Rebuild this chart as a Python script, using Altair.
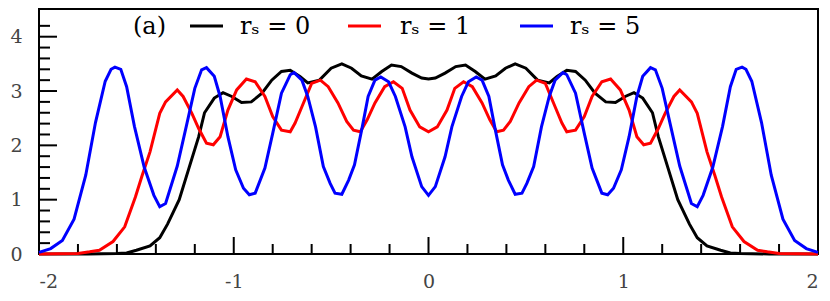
import altair as alt
import pandas as pd

labels = ["rₛ = 0", "rₛ = 1", "rₛ = 5"]
colors = ["#000000", "#ff0000", "#0000ff"]
panel_tag = "(a)"

black_pts = [(-2.00, 0.0), (-1.75, 0.0), (-1.60, 0.01), (-1.55, 0.02), (-1.50, 0.07), (-1.43, 0.15),
             (-1.38, 0.30), (-1.34, 0.55), (-1.28, 1.00), (-1.23, 1.58), (-1.18, 2.16), (-1.15, 2.60),
             (-1.10, 2.87), (-1.055, 2.97), (-1.01, 2.90), (-0.96, 2.79), (-0.91, 2.80), (-0.855, 2.96),
             (-0.805, 3.20), (-0.755, 3.36), (-0.71, 3.38), (-0.66, 3.27), (-0.62, 3.15), (-0.56, 3.20),
             (-0.50, 3.42), (-0.445, 3.50), (-0.395, 3.42), (-0.345, 3.28), (-0.29, 3.22), (-0.24, 3.36),
             (-0.19, 3.48), (-0.14, 3.45), (-0.085, 3.33), (-0.035, 3.24), (0.00, 3.22),
             (0.035, 3.24), (0.085, 3.33), (0.14, 3.45), (0.19, 3.48), (0.24, 3.36), (0.29, 3.22),
             (0.345, 3.28), (0.395, 3.42), (0.445, 3.50), (0.50, 3.42), (0.56, 3.20), (0.62, 3.15),
             (0.66, 3.27), (0.71, 3.38), (0.755, 3.36), (0.805, 3.20), (0.855, 2.96), (0.91, 2.80),
             (0.96, 2.79), (1.01, 2.90), (1.055, 2.97), (1.10, 2.87), (1.15, 2.60), (1.18, 2.16),
             (1.23, 1.58), (1.28, 1.00), (1.34, 0.55), (1.38, 0.30), (1.43, 0.15), (1.50, 0.07),
             (1.55, 0.02), (1.60, 0.01), (1.75, 0.0), (2.00, 0.0)]

red_pts = [(-2.00, 0.0), (-1.80, 0.01), (-1.74, 0.04), (-1.69, 0.07), (-1.62, 0.23), (-1.56, 0.50),
           (-1.505, 1.05), (-1.47, 1.45), (-1.43, 1.88), (-1.38, 2.59), (-1.35, 2.80), (-1.29, 3.02),
           (-1.26, 2.90), (-1.215, 2.59), (-1.18, 2.31), (-1.14, 2.04), (-1.105, 2.01), (-1.07, 2.16),
           (-1.03, 2.65), (-0.985, 3.02), (-0.935, 3.22), (-0.89, 3.17), (-0.84, 2.90), (-0.80, 2.53),
           (-0.755, 2.28), (-0.71, 2.25), (-0.685, 2.41), (-0.65, 2.71), (-0.60, 3.14), (-0.555, 3.20),
           (-0.515, 3.08), (-0.465, 2.78), (-0.42, 2.44), (-0.385, 2.28), (-0.35, 2.25), (-0.315, 2.47),
           (-0.275, 2.78), (-0.225, 3.08), (-0.18, 3.17), (-0.135, 3.05), (-0.095, 2.65), (-0.045, 2.34),
           (0.00, 2.25),
           (0.045, 2.34), (0.095, 2.65), (0.135, 3.05), (0.18, 3.17), (0.225, 3.08), (0.275, 2.78),
           (0.315, 2.47), (0.35, 2.25), (0.385, 2.28), (0.42, 2.44), (0.465, 2.78), (0.515, 3.08),
           (0.555, 3.20), (0.60, 3.14), (0.65, 2.71), (0.685, 2.41), (0.71, 2.25), (0.755, 2.28),
           (0.80, 2.53), (0.84, 2.90), (0.89, 3.17), (0.935, 3.22), (0.985, 3.02), (1.03, 2.65),
           (1.07, 2.16), (1.105, 2.01), (1.14, 2.04), (1.18, 2.31), (1.215, 2.59), (1.26, 2.90),
           (1.29, 3.02), (1.35, 2.80), (1.38, 2.59), (1.43, 1.88), (1.47, 1.45), (1.505, 1.05),
           (1.56, 0.50), (1.62, 0.23), (1.69, 0.07), (1.74, 0.04), (1.80, 0.01), (2.00, 0.0)]

blue_pts = [(-2.00, 0.03), (-1.94, 0.10), (-1.88, 0.25), (-1.82, 0.64), (-1.76, 1.45), (-1.71, 2.42),
            (-1.66, 3.18), (-1.63, 3.40), (-1.61, 3.44), (-1.58, 3.40), (-1.55, 3.08), (-1.51, 2.35),
            (-1.46, 1.60), (-1.41, 1.08), (-1.38, 0.87), (-1.35, 0.93), (-1.29, 1.62), (-1.24, 2.41),
            (-1.20, 3.05), (-1.165, 3.39), (-1.14, 3.43), (-1.10, 3.27), (-1.07, 2.90), (-1.03, 2.16),
            (-0.99, 1.55), (-0.95, 1.21), (-0.92, 1.09), (-0.89, 1.12), (-0.84, 1.58), (-0.80, 2.22),
            (-0.755, 2.96), (-0.71, 3.30), (-0.69, 3.34), (-0.65, 3.20), (-0.62, 2.90), (-0.58, 2.34),
            (-0.54, 1.61), (-0.505, 1.30), (-0.48, 1.12), (-0.445, 1.10), (-0.41, 1.36), (-0.38, 1.64),
            (-0.34, 2.34), (-0.31, 2.90), (-0.275, 3.20), (-0.245, 3.26), (-0.205, 3.17), (-0.17, 2.90),
            (-0.12, 2.34), (-0.085, 1.79), (-0.035, 1.24), (0.00, 1.08),
            (0.035, 1.24), (0.085, 1.79), (0.12, 2.34), (0.17, 2.90), (0.205, 3.17), (0.245, 3.26),
            (0.275, 3.20), (0.31, 2.90), (0.34, 2.34), (0.38, 1.64), (0.41, 1.36), (0.445, 1.10),
            (0.48, 1.12), (0.505, 1.30), (0.54, 1.61), (0.58, 2.34), (0.62, 2.90), (0.65, 3.20),
            (0.69, 3.34), (0.71, 3.30), (0.755, 2.96), (0.80, 2.22), (0.84, 1.58), (0.89, 1.12),
            (0.92, 1.09), (0.95, 1.21), (0.99, 1.55), (1.03, 2.16), (1.07, 2.90), (1.10, 3.27),
            (1.14, 3.43), (1.165, 3.39), (1.20, 3.05), (1.24, 2.41), (1.29, 1.62), (1.35, 0.93),
            (1.38, 0.87), (1.41, 1.08), (1.46, 1.60), (1.51, 2.35), (1.55, 3.08), (1.58, 3.40),
            (1.61, 3.44), (1.63, 3.40), (1.66, 3.18), (1.71, 2.42), (1.76, 1.45), (1.82, 0.64),
            (1.88, 0.25), (1.94, 0.10), (2.00, 0.03)]

x_labels = [-2, -1, 0, 1, 2]
y_labels = [0, 1, 2, 3, 4]
x_major = [-1, 0, 1]
x_minor = [-1.8, -1.6, -1.4, -1.2, -0.8, -0.6, -0.4, -0.2, 0.2, 0.4, 0.6, 0.8, 1.2, 1.4, 1.6, 1.8]
y_major = [1, 2, 3, 4]
y_minor = [0.2, 0.4, 0.6, 0.8, 1.2, 1.4, 1.6, 1.8, 2.2, 2.4, 2.6, 2.8, 3.2, 3.4, 3.6, 3.8, 4.2]

# layout (pixels, relative to the plot area)
W, H = 779, 245
FONT = "DejaVu Serif"
LEG_Y = 17
LEG_SYM_X = [151, 309, 481]
LEG_SYM_LEN = 33
LEG_TXT_X = [201, 361, 531]
TAG_X = 94

rows = []
for lab, pts in zip(labels, [black_pts, red_pts, blue_pts]):
    for i, (x, y) in enumerate(pts):
        rows.append({"x": x, "y": y, "s": lab, "o": i})
df = pd.DataFrame(rows)

xs = alt.Scale(domain=[-2, 2], nice=False, zero=False)
ys = alt.Scale(domain=[0, 4.51], nice=False, zero=False)
cs = alt.Scale(domain=labels, range=colors)

minus_expr = "datum.value < 0 ? '-' + format(-datum.value, 'd') : format(datum.value, 'd')"

x_axis = alt.Axis(values=x_labels, title=None, grid=False, ticks=False, domain=False,
                  labelFont=FONT, labelFontSize=19, labelColor="#444444", labelPadding=18,
                  labelExpr=minus_expr)
y_axis = alt.Axis(values=y_labels, title=None, grid=False, ticks=False, domain=False,
                  labelFont=FONT, labelFontSize=19, labelColor="#444444", labelPadding=17)

lines = alt.Chart(df).mark_line(strokeWidth=3).encode(
    x=alt.X("x:Q", scale=xs, axis=x_axis, title=None),
    y=alt.Y("y:Q", scale=ys, axis=y_axis, title=None),
    color=alt.Color("s:N", scale=cs, legend=None),
    order="o:Q",
)

def vticks(vals, length):
    return alt.Chart(pd.DataFrame({"x": vals})).mark_rule(color="black", strokeWidth=2).encode(
        x=alt.X("x:Q", scale=xs, axis=x_axis, title=None), y=alt.value(H), y2=alt.value(H - length))

def hticks(vals, length):
    return alt.Chart(pd.DataFrame({"y": vals})).mark_rule(color="black", strokeWidth=2).encode(
        y=alt.Y("y:Q", scale=ys, axis=y_axis, title=None), x=alt.value(0), x2=alt.value(length))

legend_layers = []
for lab, sx, tx in zip(labels, LEG_SYM_X, LEG_TXT_X):
    d = pd.DataFrame({"s": [lab]})
    legend_layers.append(alt.Chart(d).mark_rule(strokeWidth=3).encode(
        x=alt.value(sx), x2=alt.value(sx + LEG_SYM_LEN), y=alt.value(LEG_Y),
        color=alt.Color("s:N", scale=cs, legend=None)))
    legend_layers.append(alt.Chart(d).mark_text(
        align="left", baseline="middle", font=FONT, fontSize=24, color="black").encode(
        x=alt.value(tx), y=alt.value(LEG_Y + 1), text="s:N"))

tag = alt.Chart(pd.DataFrame({"t": [panel_tag]})).mark_text(
    align="left", baseline="middle", font=FONT, fontSize=24, color="black").encode(
    x=alt.value(TAG_X), y=alt.value(LEG_Y + 1), text="t:N")

chart = alt.layer(
    vticks(x_major, 17), vticks(x_minor, 10), hticks(y_major, 18), hticks(y_minor, 11), lines,
    *legend_layers, tag
).properties(
    width=W, height=H, autosize="none",
    padding={"left": 31, "top": 1, "right": 4, "bottom": 46},
).configure_view(stroke="black", strokeWidth=2)

chart.save("out.html", embed_options={"renderer": "svg", "actions": False})
